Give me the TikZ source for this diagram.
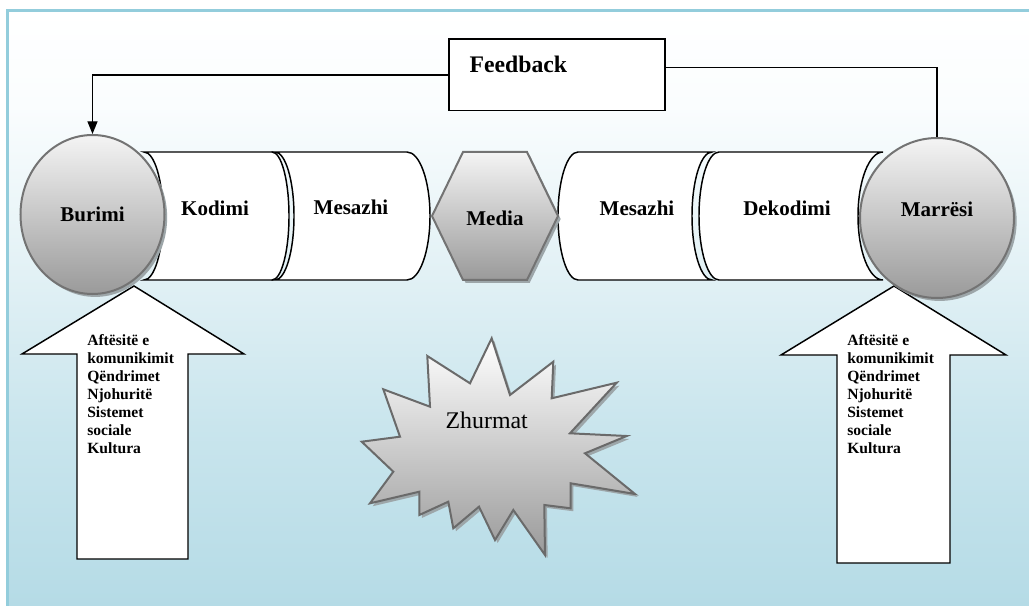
\documentclass[tikz,border=0pt]{standalone}
\usepackage{fontspec}
\setmainfont{Liberation Serif}
\usetikzlibrary{shadows,arrows.meta,shapes.geometric}

\definecolor{skyA}{HTML}{B5DBE6}
\definecolor{skyB}{HTML}{C9E5ED}
\definecolor{skyC}{HTML}{E2F1F5}
\definecolor{skyD}{HTML}{FAFDFE}
\definecolor{frameblue}{HTML}{93CDDC}
\definecolor{orbtop}{HTML}{F4F4F4}
\definecolor{orbbot}{HTML}{9A9A9A}
\definecolor{orbline}{HTML}{737373}
\definecolor{burstline}{HTML}{6A6A6A}
\definecolor{shadowgray}{HTML}{9DA6A9}

% page background: white at the top fading to light blue at the bottom
\pgfdeclareverticalshading{skyfade}{100bp}{color(0bp)=(skyA); color(25bp)=(skyA); color(40bp)=(skyB); color(53bp)=(skyC); color(67bp)=(skyD); color(75bp)=(white); color(100bp)=(white)}

\tikzset{
  lbl/.style={font=\fontsize{15.75}{18}\selectfont\bfseries, inner sep=0pt},
  fbl/.style={font=\fontsize{17.8}{20}\selectfont\bfseries, inner sep=0pt},
  factors/.style={font=\fontsize{11.7}{13.5}\selectfont\bfseries, align=left, inner sep=0pt},
  softshadow/.style={drop shadow={shadow xshift=2pt, shadow yshift=-2.2pt, fill=shadowgray, opacity=1}},
  orb/.style={ellipse, draw=orbline, line width=1.5pt, top color=orbtop, bottom color=orbbot,
              inner sep=0pt, softshadow, font=\fontsize{15.75}{18}\selectfont\bfseries},
  panel/.style={draw=black, line width=1.1pt, fill=white},
  fbbox/.style={draw=black, line width=1.1pt, fill=white, inner sep=0pt},
  uparrow/.style={draw=black, line width=1.1pt, fill=white, line join=miter},
  hexa/.style={draw=orbline, line width=1.5pt, top color=orbtop, bottom color=orbbot, softshadow},
  burst/.style={draw=burstline, line width=1.5pt, top color=white, bottom color=orbbot, softshadow, line join=miter},
  link/.style={draw=black, line width=1pt},
  % panel with both ends bulging to the right (concave left, convex right)
  capright/.style n args={4}{insert path={(#1,152) -- (#2,152)
     .. controls ({#2+0.5523*#4},152) and ({#2+#4},180.65) .. ({#2+#4},216)
     .. controls ({#2+#4},251.35) and ({#2+0.5523*#4},280) .. (#2,280) -- (#1,280)
     .. controls ({#1+0.5523*#3},280) and ({#1+#3},251.35) .. ({#1+#3},216)
     .. controls ({#1+#3},180.65) and ({#1+0.5523*#3},152) .. cycle}},
  % panel with both ends bulging to the left (convex left, concave right)
  capleft/.style n args={4}{insert path={(#1,152) -- (#2,152)
     .. controls ({#2-0.5523*#4},152) and ({#2-#4},180.65) .. ({#2-#4},216)
     .. controls ({#2-#4},251.35) and ({#2-0.5523*#4},280) .. (#2,280) -- (#1,280)
     .. controls ({#1-0.5523*#3},280) and ({#1-#3},251.35) .. ({#1-#3},216)
     .. controls ({#1-#3},180.65) and ({#1-0.5523*#3},152) .. cycle}}
}

\begin{document}
\begin{tikzpicture}[x=0.75pt,y=-0.75pt]
\useasboundingbox (0,0) rectangle (1029,606);
\fill[white] (0,0) rectangle (1029,606);
\shade[shading=skyfade] (7.3,10.7) rectangle (1029,606);
\draw[frameblue, line width=1.9pt] (7.3,606) -- (7.3,10.7) -- (1029,10.7);

% feedback box
\node[fbbox, anchor=north west, minimum width=162pt, minimum height=53.8pt] (fb) at (448.3,38.3) {};
\node[fbl, anchor=west] (fbtext) at (469.3,64.3) {Feedback};

% sender side panels
\path[panel, capright={144}{272}{19}{17}];
\path[panel, capright={275}{407}{19}{23}];
% receiver side panels
\path[panel, capleft={578}{712}{20}{20}];
\path[panel, capleft={719}{883}{20}{25}];

% channel
\path[hexa] (432,216) -- (463,152) -- (527,152) -- (558,216) -- (527,280) -- (463,280) -- cycle;

\node[lbl] (enc)   at (215,208) {Kodimi};
\node[lbl] (msgA)  at (351,207) {Mesazhi};
\node[lbl] (media) at (495,218) {Media};
\node[lbl] (msgB)  at (637,208) {Mesazhi};
\node[lbl] (dec)   at (787,208) {Dekodimi};

% influence arrows
\path[uparrow] (134,286) -- (244,354) -- (188,354) -- (188,559) -- (77,559) -- (77,354) -- (22,354) -- cycle;
\path[uparrow] (894,286) -- (1006,355) -- (950,355) -- (950,563) -- (837,563) -- (837,355) -- (781,355) -- cycle;

\node[factors, anchor=north west] (srcfactors) at (87,334)
  {Aftësitë e\\komunikimit\\Qëndrimet\\Njohuritë\\Sistemet\\sociale\\Kultura};
\node[factors, anchor=north west] (dstfactors) at (847,334)
  {Aftësitë e\\komunikimit\\Qëndrimet\\Njohuritë\\Sistemet\\sociale\\Kultura};

% source and receiver
\node[orb, minimum width=108pt, minimum height=119.25pt] (src) at (92.5,214.5) {Burimi};
\node[orb, minimum width=115.5pt, minimum height=120pt, text height=11pt, text depth=13.5pt] (dst) at (937,218) {Marrësi};

% noise
\path[burst] (491.7,338.3) -- (510,395) -- (553.3,361.7) -- (551.7,398.3) -- (616.7,382.7)
  -- (570,433.3) -- (626.7,436) -- (585,453.3) -- (635,494) -- (570.7,483.3) -- (570.7,508.3)
  -- (544.3,505) -- (545,555) -- (513.3,510) -- (495,540) -- (479,506.7) -- (453.3,528.3)
  -- (448.3,501.7) -- (419.3,515) -- (419.3,491.7) -- (370,503.3) -- (393.3,471.7)
  -- (361.7,441.7) -- (400,436.7) -- (383.3,389.3) -- (430,406.7) -- (427.3,356)
  -- (470,383.3) -- cycle;
\node[font=\fontsize{17.9}{20}\selectfont, inner sep=0pt] (noise) at (486.7,420) {Zhurmat};

% feedback loop
\draw[link, -{Triangle[width=7.5pt,length=9.5pt]}] (fb.west) -| (src.north);
\draw[link] ([yshift=5.6pt]fb.east) -| (dst.north);
\end{tikzpicture}
\end{document}
